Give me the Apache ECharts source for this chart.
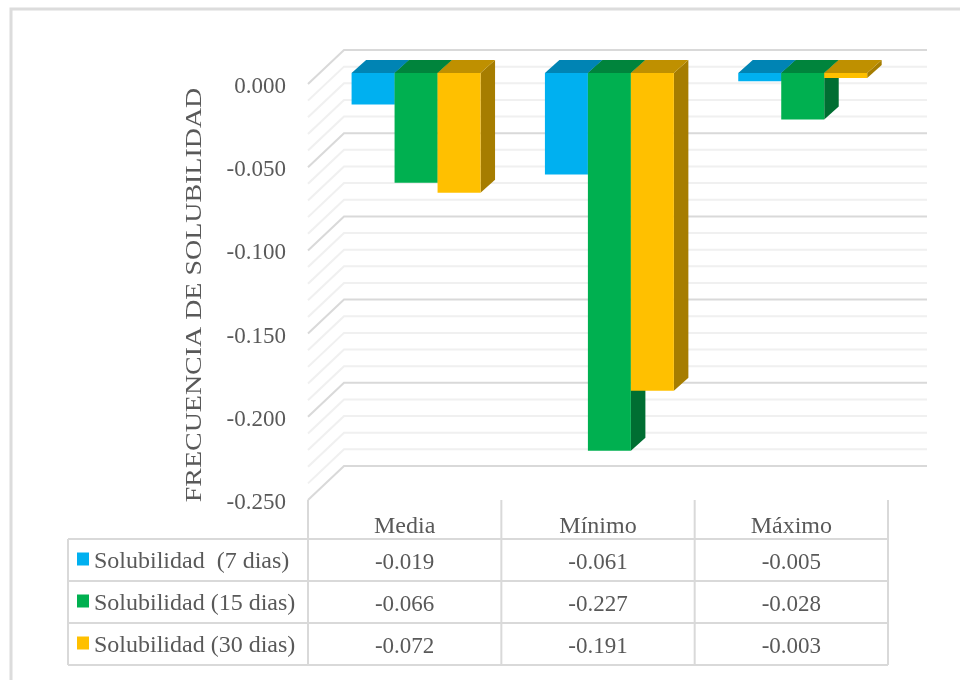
<!DOCTYPE html>
<html><head><meta charset="utf-8">
<style>html,body{margin:0;padding:0;background:#fff}#c{width:960px;height:680px}</style>
<script src="https://cdn.jsdelivr.net/npm/echarts@6/dist/echarts.min.js"></script>
</head><body><div id="c"></div>
<script>
const categories = ['Media', 'Mínimo', 'Máximo'];
const solub7  = [-0.019, -0.061, -0.005];
const solub15 = [-0.066, -0.227, -0.028];
const solub30 = [-0.072, -0.191, -0.003];
const seriesNames = ['Solubilidad  (7 dias)', 'Solubilidad (15 dias)', 'Solubilidad (30 dias)'];
const gridTicks = [0,-0.01,-0.02,-0.03,-0.04,-0.05,-0.06,-0.07,-0.08,-0.09,-0.10,-0.11,-0.12,-0.13,-0.14,-0.15,-0.16,-0.17,-0.18,-0.19,-0.20,-0.21,-0.22,-0.23,-0.24,-0.25];
const yAxisTitle = 'FRECUENCIA DE SOLUBILIDAD';

const FONT = '"Liberation Serif", serif';
const TXT = '#595959';
const palette = [
  {front:'#00B0F0', top:'#0084B4', side:'#006E96'},
  {front:'#00B050', top:'#00843C', side:'#006E32'},
  {front:'#FFC000', top:'#BF9000', side:'#A67D00'}
];
const WALL = {dx:36, dy:-34};
const BAR_OFF = {dx:11.4, dy:-11};
const BAR_DEPTH = {dx:14.5, dy:-13};
const BAR_RATIO = 43/193.4;

function poly(pts, fill){ return {type:'polygon', shape:{points:pts}, style:{fill:fill}, silent:true}; }

function barSeries(idx, values){
  return {
    name: seriesNames[idx], type:'custom', z:5,
    itemStyle:{color:palette[idx].front},
    data: values.map((v,i)=>[i,v]),
    renderItem(params, api){
      const base = api.coord([api.value(0),0]);
      const end = api.coord([api.value(0),api.value(1)]);
      const w = api.size([1,0])[0]*BAR_RATIO;
      const x0 = base[0]+BAR_OFF.dx+(idx-1.5)*w, x1 = x0+w;
      const y0 = base[1]+BAR_OFF.dy, y1 = end[1]+BAR_OFF.dy;
      const d = BAR_DEPTH, c = palette[idx];
      return {type:'group', children:[
        poly([[x1,y0],[x1+d.dx,y0+d.dy],[x1+d.dx,y1+d.dy],[x1,y1]], c.side),
        poly([[x0,y0],[x0+d.dx,y0+d.dy],[x1+d.dx,y0+d.dy],[x1,y0]], c.top),
        poly([[x0,y0],[x1,y0],[x1,y1],[x0,y1]], c.front)
      ]};
    }
  };
}

const wallSeries = {
  type:'custom', z:1, silent:true, legendHoverLink:false,
  data: gridTicks.map(v=>[0,v]),
  renderItem(params, api){
    const cs = params.coordSys;
    const y = api.coord([0,api.value(1)])[1];
    const major = Math.round(api.value(1)*1000)%50===0;
    return {type:'polyline', silent:true,
      shape:{points:[[cs.x,y],[cs.x+WALL.dx,y+WALL.dy],[cs.x+cs.width+39,y+WALL.dy]]},
      style:{fill:null, stroke: major?'#d9d9d9':'#f0f0f0', lineWidth:2}};
  }
};

const ROW_Y = [539, 581, 623, 665];
const TABLE_LEFT = 68, AXIS_BOTTOM = 500;
const tableSeries = {
  type:'custom', z:3, silent:true,
  data: categories.map((c,i)=>[i,solub7[i],solub15[i],solub30[i]]),
  renderItem(params, api){
    const cs = params.coordSys;
    const i = api.value(0);
    const band = api.size([1,0])[0];
    const cx = api.coord([i,0])[0];
    const line = (x1,y1,x2,y2)=>({type:'line',silent:true,shape:{x1,y1,x2,y2},style:{stroke:'#d9d9d9',lineWidth:2}});
    const kids = [ line(cx+band/2,AXIS_BOTTOM,cx+band/2,ROW_Y[3]) ];
    if(i===0){
      kids.push(line(cs.x,AXIS_BOTTOM,cs.x,ROW_Y[3]));
      kids.push(line(TABLE_LEFT,ROW_Y[0],TABLE_LEFT,ROW_Y[3]));
      ROW_Y.forEach(y=>kids.push(line(TABLE_LEFT,y,cs.x+cs.width,y)));
    }
    for(let r=0;r<3;r++){
      kids.push({type:'text',silent:true,style:{
        text: api.value(r+1).toFixed(3), x:cx,
        y:(ROW_Y[r]+ROW_Y[r+1])/2+3, align:'center', verticalAlign:'middle',
        font:'23px '+FONT, fill:TXT}});
    }
    return {type:'group',children:kids};
  }
};

const chart = echarts.init(document.getElementById('c'), null, {renderer:'canvas'});
chart.setOption({
  animation:false,
  backgroundColor:'#fff',
  graphic:[
    {type:'rect',z:0,shape:{x:11,y:9,width:960,height:680},style:{fill:'#fff',stroke:'#dcdcdc',lineWidth:3}},
    {type:'text',z:2,x:195,y:295,rotation:Math.PI/2,scaleX:1.215,
     style:{text:yAxisTitle,align:'center',verticalAlign:'middle',font:'23px '+FONT,fill:TXT}}
  ],
  grid:{left:308, top:84, width:580, height:416},
  legend:{
    orient:'vertical', left:72, top:545, itemWidth:12, itemHeight:13, itemGap:18,
    icon:'rect', selectedMode:false,
    data:seriesNames,
    formatter:'{t|{name}}',
    textStyle:{fontFamily:FONT, fontSize:24, color:TXT,
      rich:{t:{fontFamily:FONT, fontSize:24, color:TXT, padding:[6,0,0,0]}}}
  },
  xAxis:{type:'category', data:categories, position:'bottom',
    axisLine:{show:false}, axisTick:{show:false}, splitLine:{show:false},
    axisLabel:{fontFamily:FONT, fontSize:24, color:TXT, margin:15}},
  yAxis:{type:'value', min:-0.25, max:0, interval:0.05,
    axisLine:{show:false}, axisTick:{show:false}, splitLine:{show:false},
    axisLabel:{fontFamily:FONT, fontSize:23, color:TXT, margin:22, verticalAlign:'top', lineHeight:6, formatter:v=>v.toFixed(3)}},
  series:[wallSeries, tableSeries, barSeries(0,solub7), barSeries(1,solub15), barSeries(2,solub30)]
});
</script></body></html>
